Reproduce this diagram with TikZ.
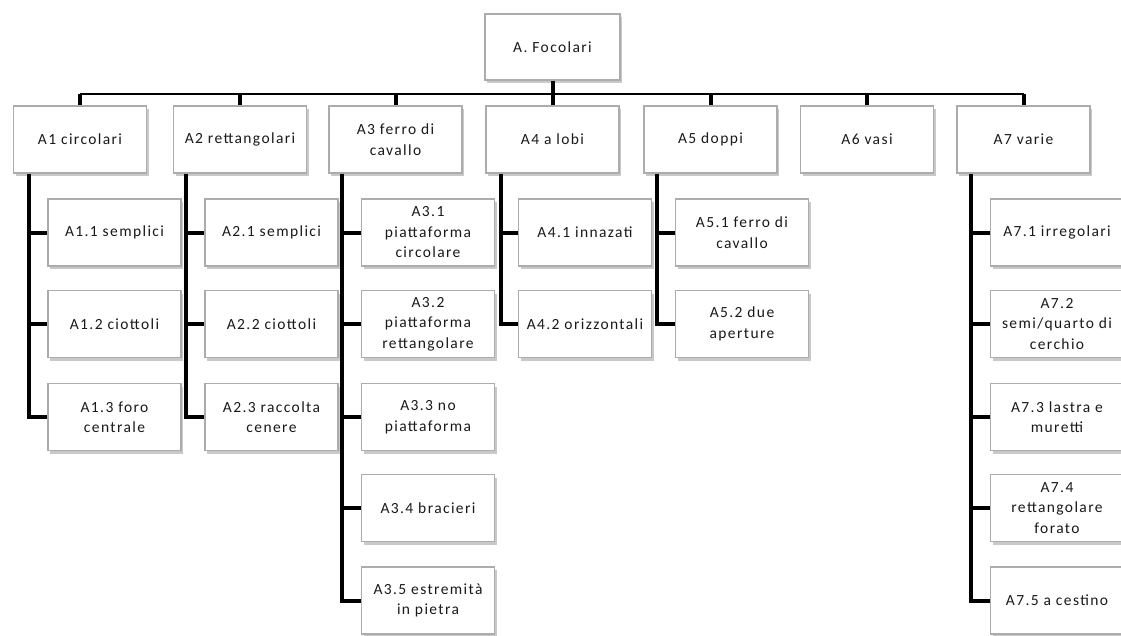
\documentclass[tikz,border=0pt]{standalone}
\usepackage{fontspec}
\setmainfont[LetterSpace=9]{Carlito}
\usetikzlibrary{shadows,calc}

\tikzset{
  box/.style={draw=gray!65, line width=1.3pt, fill=white, align=center,
    minimum width=133pt, minimum height=67pt, inner sep=2pt,
    font=\fontsize{15.5}{20.5}\selectfont, text=black!90,
    drop shadow={shadow xshift=2pt, shadow yshift=-3pt, fill=gray!60, opacity=0.7}},
  rootbox/.style={box, minimum width=135pt, minimum height=66pt},
  branch/.style={line width=4pt, line cap=butt},
  busline/.style={line width=2pt},
}

\begin{document}
\begin{tikzpicture}[x=1pt, y=-1pt]
\useasboundingbox (0,0) rectangle (1121,635);

% root and first level
\node[rootbox] (root) at (552.5,47) {A. Focolari};
\node[box] (A1) at (80,139.5) {A1 circolari};
\node[box] (A2) at (240,139.5) {A2 rettangolari};
\node[box] (A3) at (395.5,139.5) {A3 ferro di\\cavallo};
\node[box] (A4) at (552.5,139.5) {A4 a lobi};
\node[box] (A5) at (710.5,139.5) {A5 doppi};
\node[box] (A6) at (867,139.5) {A6 vasi};
\node[box] (A7) at (1023.5,139.5) {A7 varie};

% second level
\node[box] (A11) at (114.5,232.5) {A1.1 semplici};
\node[box] (A12) at (114.5,324) {A1.2 ciottoli};
\node[box] (A13) at (114.5,417) {A1.3 foro\\centrale};

\node[box] (A21) at (271.5,232.5) {A2.1 semplici};
\node[box] (A22) at (271.5,324) {A2.2 ciottoli};
\node[box] (A23) at (271.5,417) {A2.3 raccolta\\cenere};

\node[box] (A31) at (428,232.5) {A3.1\\piattaforma\\circolare};
\node[box] (A32) at (428,324) {A3.2\\piattaforma\\rettangolare};
\node[box] (A33) at (428,417) {A3.3 no\\piattaforma};
\node[box] (A34) at (428,508) {A3.4 bracieri};
\node[box] (A35) at (428,600.5) {A3.5 estremità\\in pietra};

\node[box] (A41) at (585,232.5) {A4.1 innazati};
\node[box] (A42) at (585,324) {A4.2 orizzontali};

\node[box] (A51) at (742,232.5) {A5.1 ferro di\\cavallo};
\node[box] (A52) at (742,324) {A5.2 due\\aperture};

\node[box] (A71) at (1057,232.5) {A7.1 irregolari};
\node[box] (A72) at (1057,324) {A7.2\\semi/quarto di\\cerchio};
\node[box] (A73) at (1057,417) {A7.3 lastra e\\muretti};
\node[box] (A74) at (1057,508) {A7.4\\rettangolare\\forato};
\node[box] (A75) at (1057,600.5) {A7.5 a cestino};

% bus between root and first level
\coordinate (bus) at (0,94);
\draw[busline] (A1.north |- bus) -- (A7.north |- bus);
\draw[branch] (root.south) -- (A4.north);
\foreach \n in {A1,A2,A3,A5,A6,A7}
  \draw[branch] (\n.north |- bus) -- (\n.north);

% spines of the second level
\coordinate (A1sp) at ([xshift=16.5pt]A1.south west);
\coordinate (A2sp) at ([xshift=13.5pt]A2.south west);
\coordinate (A3sp) at ([xshift=14pt]A3.south west);
\coordinate (A4sp) at ([xshift=16pt]A4.south west);
\coordinate (A5sp) at ([xshift=14pt]A5.south west);
\coordinate (A7sp) at ([xshift=15pt]A7.south west);

\draw[branch] (A1sp) |- (A13.west);
\foreach \c in {A11,A12} \draw[branch] (A1sp |- \c.west) -- (\c.west);
\draw[branch] (A2sp) |- (A23.west);
\foreach \c in {A21,A22} \draw[branch] (A2sp |- \c.west) -- (\c.west);
\draw[branch] (A3sp) |- (A35.west);
\foreach \c in {A31,A32,A33,A34} \draw[branch] (A3sp |- \c.west) -- (\c.west);
\draw[branch] (A4sp) |- (A42.west);
\draw[branch] (A4sp |- A41.west) -- (A41.west);
\draw[branch] (A5sp) |- (A52.west);
\draw[branch] (A5sp |- A51.west) -- (A51.west);
\draw[branch] (A7sp) |- (A75.west);
\foreach \c in {A71,A72,A73,A74} \draw[branch] (A7sp |- \c.west) -- (\c.west);
\end{tikzpicture}
\end{document}
